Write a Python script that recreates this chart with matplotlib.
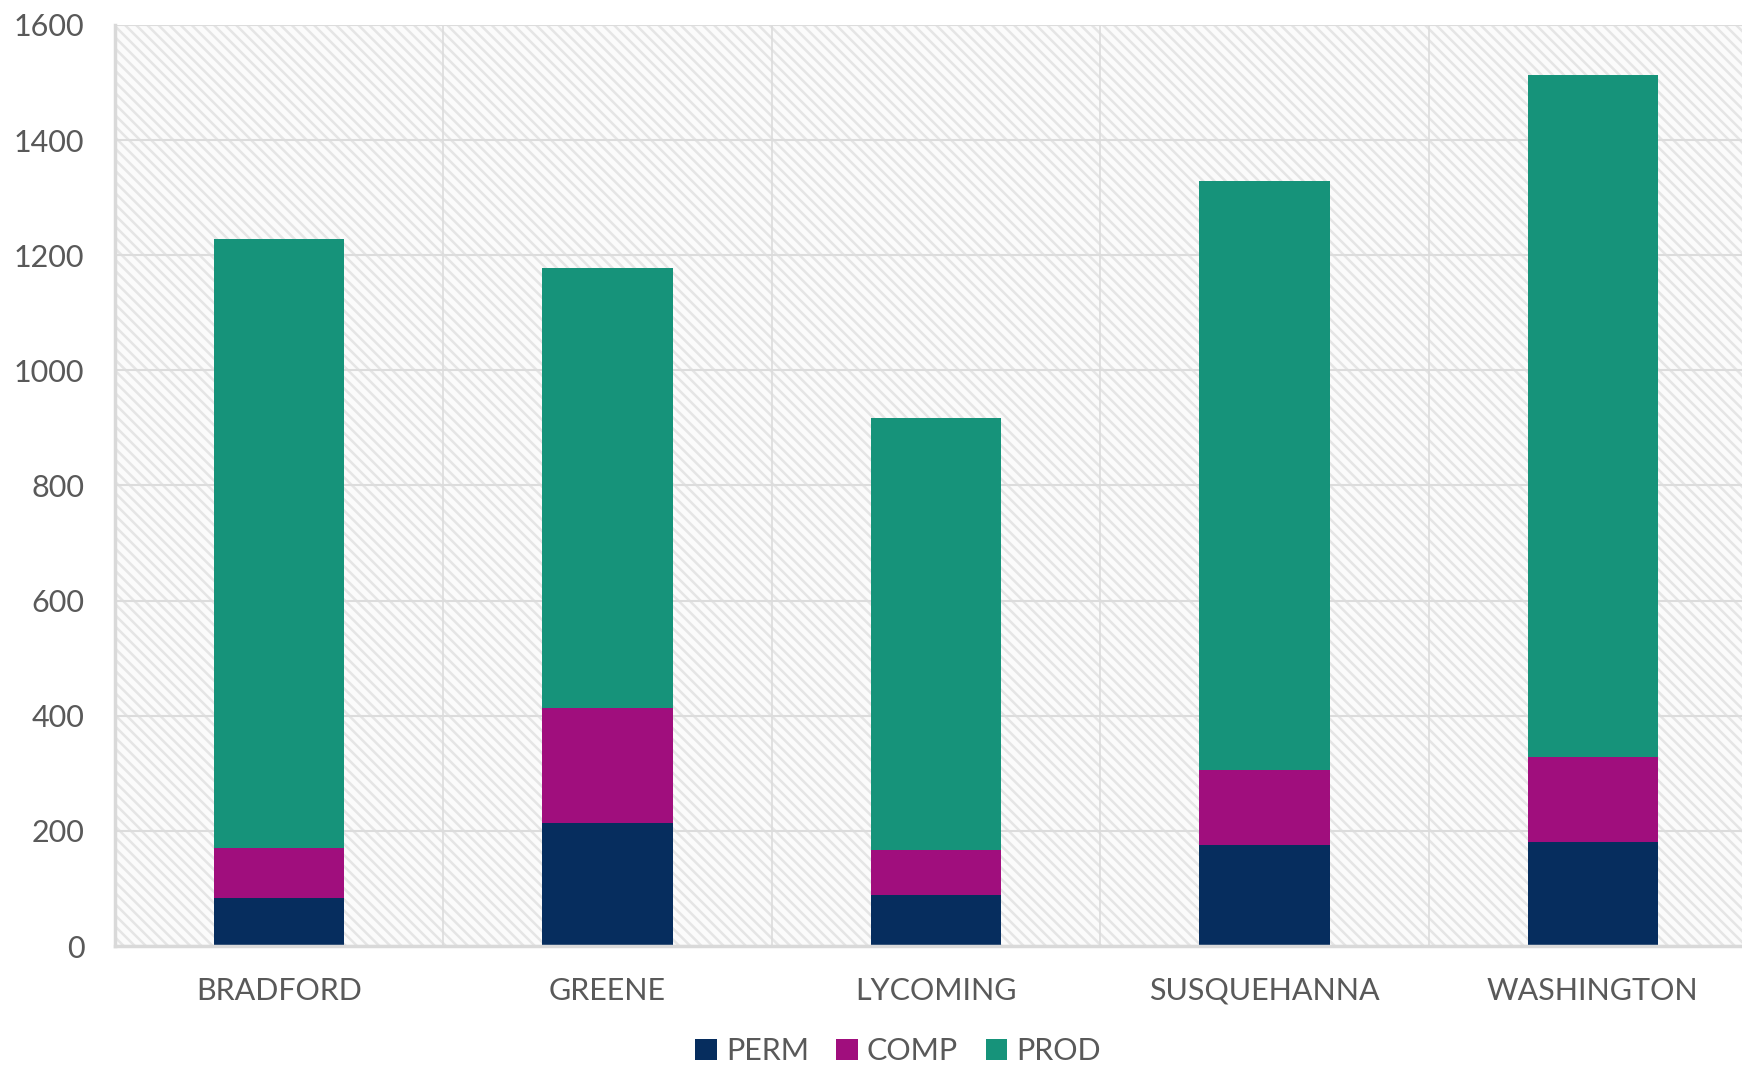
import matplotlib.pyplot as plt
import numpy as np
from matplotlib.patches import Rectangle

counties = ['BRADFORD', 'GREENE', 'LYCOMING', 'SUSQUEHANNA', 'WASHINGTON']
perm = [83, 213, 88, 176, 181]
comp = [88, 200, 79, 130, 148]
prod = [1057, 764, 750, 1023, 1185]

colors = {'PERM': '#062d5e', 'COMP': '#a00e7d', 'PROD': '#16937a'}
txt = '#595959'

plt.rcParams['font.family'] = ['Lato', 'DejaVu Sans']
plt.rcParams['hatch.linewidth'] = 1.8

fig = plt.figure(figsize=(17.42, 10.66), dpi=100)
ax = fig.add_axes([115/1742, 1 - 946/1066, (1757 - 115)/1742, (946 - 25)/1066])
ax.set_facecolor('none')

# fine diagonal texture of the plot area
ax.add_patch(Rectangle((0, 0), 1, 1, transform=ax.transAxes, facecolor='#fbfbfb',
                       edgecolor='#e5e5e5', hatch='\\\\\\', lw=0, zorder=0))

x = np.arange(len(counties))
perm = np.array(perm)
comp = np.array(comp)
prod = np.array(prod)
w = 0.397
ax.bar(x, perm, w, color=colors['PERM'], label='PERM', zorder=2)
ax.bar(x, comp, w, bottom=perm, color=colors['COMP'], label='COMP', zorder=2)
ax.bar(x, prod, w, bottom=perm + comp, color=colors['PROD'], label='PROD', zorder=2)

ax.set_xlim(-0.5, 4.5)
ax.set_ylim(0, 1600)
ax.set_yticks(np.arange(0, 1601, 200))
ax.set_xticks(x)
ax.set_xticklabels(counties)
ax.set_xticks(np.arange(0.5, 4.5, 1), minor=True)

ax.grid(axis='y', which='major', color='#dcdcdc', lw=1.5, zorder=1)
ax.grid(axis='x', which='minor', color='#dcdcdc', lw=1.2, zorder=1)
ax.grid(axis='x', which='major', visible=False)

for s in ['top', 'right']:
    ax.spines[s].set_visible(False)
ax.spines['left'].set_color('#d9d9d9')
ax.spines['left'].set_linewidth(2.5)
ax.spines['bottom'].set_color('#d9d9d9')
ax.spines['bottom'].set_linewidth(2.5)

ax.tick_params(axis='y', length=0, pad=22, labelsize=22, labelcolor=txt)
ax.tick_params(axis='x', length=0, pad=22, labelsize=22, labelcolor=txt)
ax.tick_params(axis='x', which='minor', length=0)

fig.legend(loc='center', bbox_to_anchor=(898/1742, 1 - 1051/1066), ncol=3,
           frameon=False, fontsize=22, labelcolor=txt, handlelength=0.7,
           handleheight=0.7, handletextpad=0.3, columnspacing=0.9)

fig.savefig('out.png', dpi=100)
